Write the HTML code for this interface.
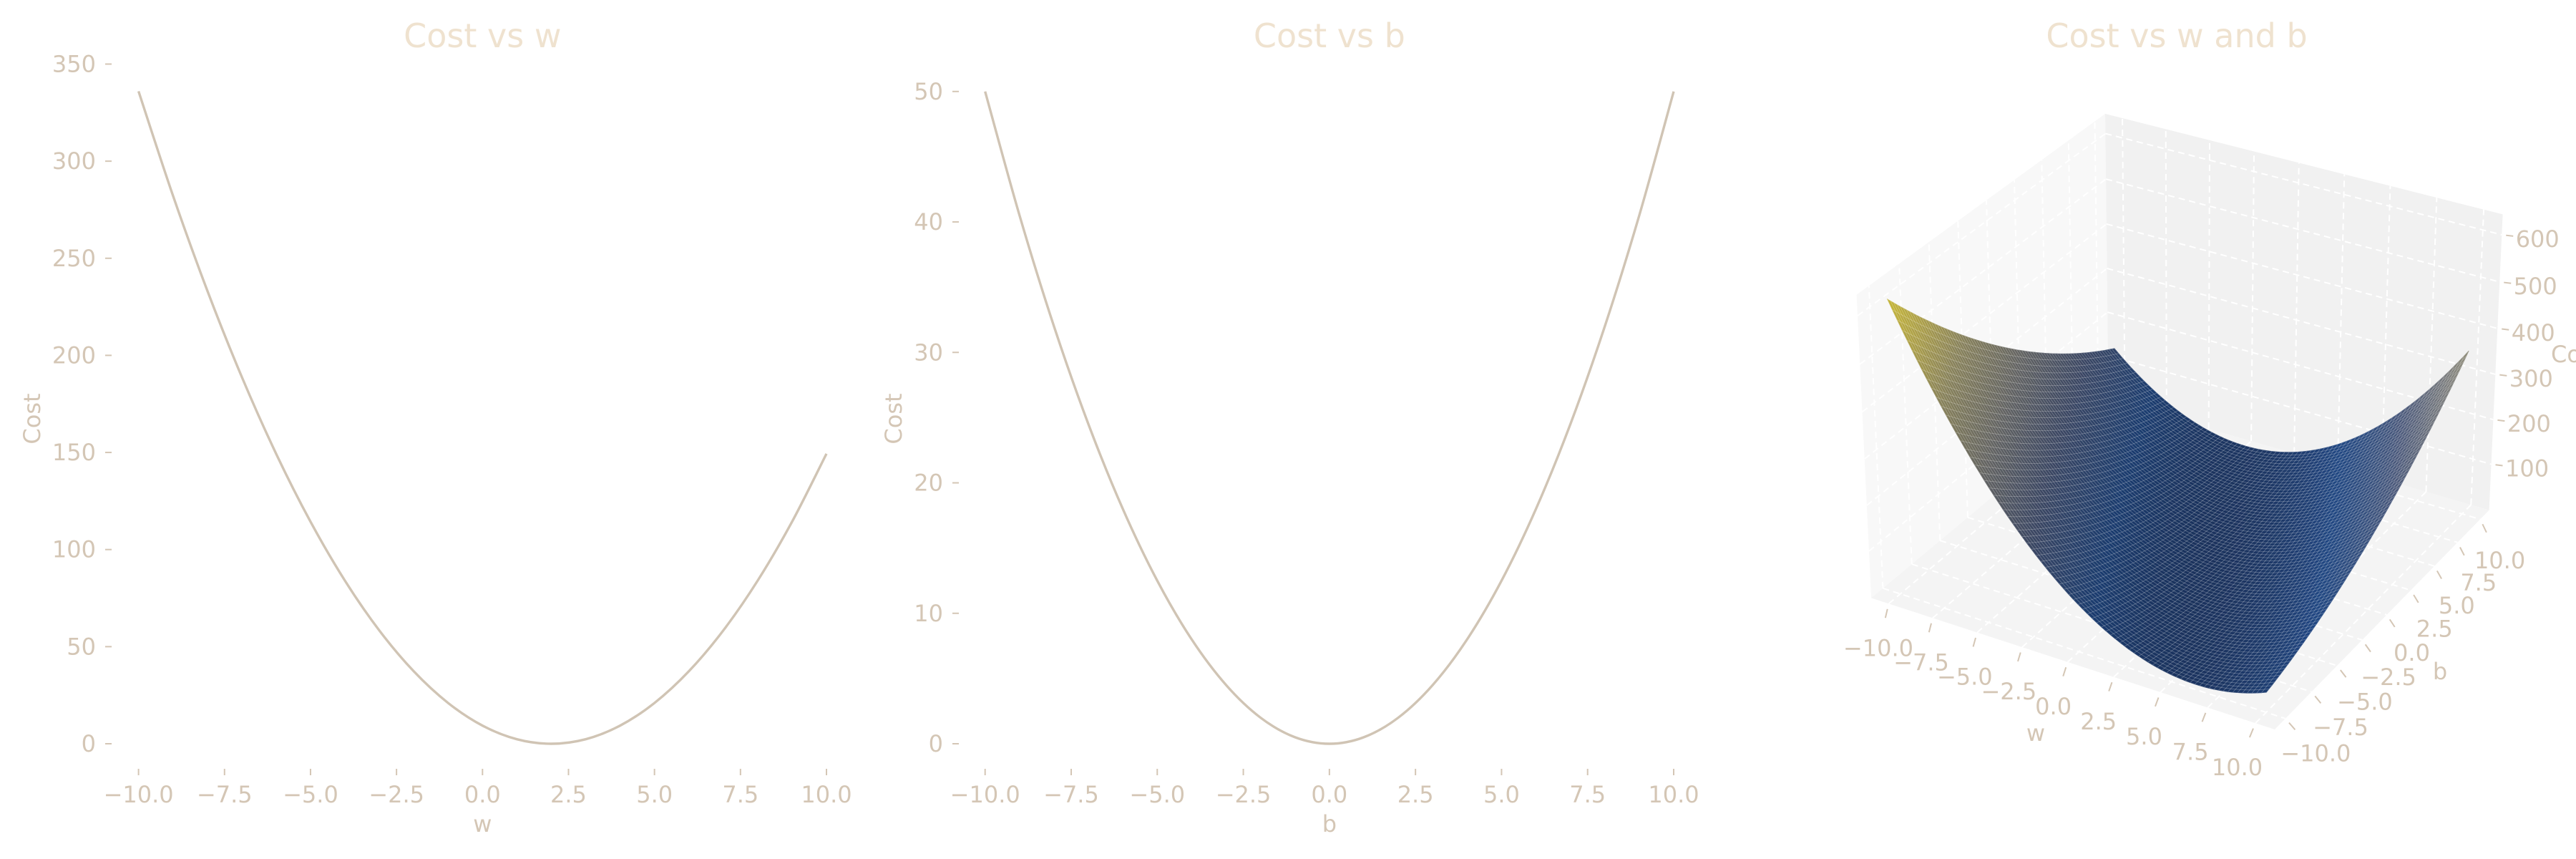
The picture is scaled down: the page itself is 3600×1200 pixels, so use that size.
<!DOCTYPE html>
<html><head><meta charset="utf-8"><style>
html,body{margin:0;padding:0;background:#fff;}
svg{display:block;}
text{font-family:"DejaVu Sans","Liberation Sans",sans-serif;}
</style></head><body>
<svg id="fig" xmlns="http://www.w3.org/2000/svg" width="3600" height="1200" viewBox="0 0 3600 1200">
<rect width="3600" height="1200" fill="#ffffff"/>
<g id="p1"></g>
<g id="p2"></g>
<g id="p3"></g>
</svg>
<script>
// ---------- data ----------
const wValues = [-10,-9,-8,-7,-6,-5,-4,-3,-2,-1,0,1,2,3,4,5,6,7,8,9,10];
const costW = [336,282.33,233.33,189,149.33,114.33,84,58.33,37.33,21,9.33,2.33,0,2.33,9.33,21,37.33,58.33,84,114.33,149.33];
const bValues = [-10,-9,-8,-7,-6,-5,-4,-3,-2,-1,0,1,2,3,4,5,6,7,8,9,10];
const costB = [50,40.5,32,24.5,18,12.5,8,4.5,2,0.5,0,0.5,2,4.5,8,12.5,18,24.5,32,40.5,50];
const xTicks = [-10,-7.5,-5,-2.5,0,2.5,5,7.5,10];
const xTickLabels = ["\u221210.0","\u22127.5","\u22125.0","\u22122.5","0.0","2.5","5.0","7.5","10.0"];
const yTicksW = [0,50,100,150,200,250,300,350];
const yTicksB = [0,10,20,30,40,50];
const trainX = [1,2,3];
const trainY = [2,4,6];
const zTicks = [100,200,300,400,500,600];

const NS = "http://www.w3.org/2000/svg";
const TICK = "#d4c6b5", TITLE = "#efe2cf", LINE = "#d0c4b4";
function mk(tag, attrs, parent){ const e=document.createElementNS(NS,tag); for(const k in attrs) e.setAttribute(k,attrs[k]); parent.appendChild(e); return e; }
function txt(parent, s, x, y, size, color, anchor, rot){
  const t = mk('text',{x:x,y:y,'font-size':size,fill:color,'text-anchor':anchor||'middle','dominant-baseline':'central'},parent);
  if(rot) t.setAttribute('transform','rotate('+rot+' '+x+' '+y+')');
  t.textContent = s; return t;
}
function smoothPath(pts){
  let d = 'M'+pts[0][0].toFixed(2)+','+pts[0][1].toFixed(2);
  for(let i=0;i<pts.length-1;i++){
    const p0=pts[Math.max(0,i-1)], p1=pts[i], p2=pts[i+1], p3=pts[Math.min(pts.length-1,i+2)];
    const c1=[p1[0]+(p2[0]-p0[0])/6, p1[1]+(p2[1]-p0[1])/6];
    const c2=[p2[0]-(p3[0]-p1[0])/6, p2[1]-(p3[1]-p1[1])/6];
    d+=' C'+c1[0].toFixed(2)+','+c1[1].toFixed(2)+' '+c2[0].toFixed(2)+','+c2[1].toFixed(2)+' '+p2[0].toFixed(2)+','+p2[1].toFixed(2);
  }
  return d;
}

function panel2D(g, cfg){
  const X = v => cfg.x0 + (v - (-10)) / 20 * (cfg.x1 - cfg.x0);
  const Y = v => cfg.y0 - v / cfg.yMaxVal * (cfg.y0 - cfg.y1);
  const t = txt(g, cfg.title, (cfg.x0+cfg.x1)/2, 50, 46, TITLE);
  
  
  cfg.yTicks.forEach(v=>{
    const l = mk('line',{x1:cfg.tickX,x2:cfg.tickX+9,y1:Y(v),y2:Y(v),stroke:TICK,'stroke-width':2},g);
    
    
    const tl = txt(g, String(v), cfg.tickX-13, Y(v), 32, TICK, 'end');
    
    
  });
  xTicks.forEach((v,i)=>{
    const l = mk('line',{x1:X(v),x2:X(v),y1:1074,y2:1083,stroke:TICK,'stroke-width':2},g);
    
    
    const tl = txt(g, xTickLabels[i], X(v), 1110, 32, TICK, 'middle');
    
    
  });
  const xl = txt(g, cfg.xlabel, (cfg.x0+cfg.x1)/2, 1151, 32, TICK);
  
  
  const yl = txt(g, 'Cost', cfg.ylabelX, 585, 32, TICK, 'middle', -90);
  
  
  const pts = cfg.xs.map((v,i)=>[X(v), Y(cfg.ys[i])]);
  const p = mk('path',{d:smoothPath(pts),fill:'none',stroke:LINE,'stroke-width':3.4,'stroke-linejoin':'round'},g);
  
  
}
panel2D(document.getElementById('p1'),{x0:193.6,x1:1155,y0:1039,y1:89.5,yMaxVal:350,yTicks:yTicksW,tickX:147,title:'Cost vs w',xlabel:'w',ylabelX:45,xs:wValues,ys:costW});
panel2D(document.getElementById('p2'),{x0:1376.7,x1:2339,y0:1039,y1:127.8,yMaxVal:50,yTicks:yTicksB,tickX:1331,title:'Cost vs b',xlabel:'b',ylabelX:1249,xs:bValues,ys:costB});

// ---------- 3D panel ----------
(function(){
  const g = document.getElementById('p3');
  const LIM = [-11,11], ZL = [-4,643];
  const A = [1.1905,1.1905,0.8929];
  const el = 30*Math.PI/180, az = -60*Math.PI/180;
  const p = [Math.cos(el)*Math.cos(az), Math.cos(el)*Math.sin(az), Math.sin(el)];
  const eye = [A[0]/2+10*p[0], A[1]/2+10*p[1], A[2]/2+10*p[2]];
  let u = [-p[1], p[0], 0]; const un=Math.hypot(u[0],u[1]); u=[u[0]/un,u[1]/un,0];
  const v = [p[1]*u[2]-p[2]*u[1], p[2]*u[0]-p[0]*u[2], p[0]*u[1]-p[1]*u[0]];
  function raw(w,b,z){
    const P=[(w-LIM[0])/(LIM[1]-LIM[0])*A[0],(b-LIM[0])/(LIM[1]-LIM[0])*A[1],(z-ZL[0])/(ZL[1]-ZL[0])*A[2]];
    const r=[P[0]-eye[0],P[1]-eye[1],P[2]-eye[2]];
    const d=-(p[0]*r[0]+p[1]*r[1]+p[2]*r[2]);
    return [(u[0]*r[0]+u[1]*r[1]+u[2]*r[2])/d,(v[0]*r[0]+v[1]*r[1]+v[2]*r[2])/d,d];
  }
  const FX=3179, FY=1019, TX=2942, TY=159;
  const F = raw(11,-11,ZL[0]), T = raw(-11,11,ZL[1]);
  const sx = (FX-TX)/(F[0]-T[0]), sy = (FY-TY)/(F[1]-T[1]);
  function P(w,b,z){ const r=raw(w,b,z); return [FX+(r[0]-F[0])*sx, FY+(r[1]-F[1])*sy, r[2]]; }
  const pt = q => q[0].toFixed(1)+','+q[1].toFixed(1);

  const t = txt(g,'Cost vs w and b',3042,50,46,TITLE);
  
  

  const zlo=ZL[0], zhi=ZL[1];
  const panes = [
    {n:'w-pane', c:[[-11,-11,zlo],[-11,11,zlo],[-11,11,zhi],[-11,-11,zhi]], f:'#f8f8f8'},
    {n:'b-pane', c:[[-11,11,zlo],[11,11,zlo],[11,11,zhi],[-11,11,zhi]], f:'#f1f1f1'},
    {n:'floor-pane', c:[[-11,-11,zlo],[11,-11,zlo],[11,11,zlo],[-11,11,zlo]], f:'#f4f4f4'}
  ];
  panes.forEach(pn=>{
    const e = mk('polygon',{points:pn.c.map(c=>pt(P(...c))).join(' '),fill:pn.f},g);
    
    
  });
  function gl(a,b2){
    const A1=P(...a), B1=P(...b2);
    const l = mk('line',{x1:A1[0],y1:A1[1],x2:B1[0],y2:B1[1],stroke:'#ffffff','stroke-width':2,'stroke-dasharray':'9,6'},g);
    
    
  }
  xTicks.forEach(w=>{ gl([w,-11,zlo],[w,11,zlo]); gl([w,11,zlo],[w,11,zhi]); });
  xTicks.forEach(b=>{ gl([-11,b,zlo],[11,b,zlo]); gl([-11,b,zlo],[-11,b,zhi]); });
  zTicks.forEach(z=>{ gl([-11,-11,z],[-11,11,z]); gl([-11,11,z],[11,11,z]); });

  // surface
  const N = 80;
  const m = trainX.length;
  function cost(w,b){ let s=0; for(let i=0;i<m;i++){ const e=w*trainX[i]+b-trainY[i]; s+=e*e; } return s/(2*m); }
  const grid=[]; let zmin=Infinity,zmax=-Infinity;
  for(let i=0;i<=N;i++){ grid.push([]); for(let j=0;j<=N;j++){ const w=-10+20*i/N, b=-10+20*j/N, z=cost(w,b); grid[i].push([w,b,z]); zmin=Math.min(zmin,z); zmax=Math.max(zmax,z);} }
  const stops=[[0,[28,52,96]],[0.12,[30,68,126]],[0.3,[70,84,118]],[0.5,[124,124,120]],[0.7,[170,162,112]],[0.85,[214,198,92]],[1,[252,232,70]]];
  function cmap(tv){ for(let k=1;k<stops.length;k++){ if(tv<=stops[k][0]){ const a=stops[k-1],b=stops[k]; const f=(tv-a[0])/(b[0]-a[0]); return a[1].map((c,ii)=>Math.round(c+(b[1][ii]-c)*f)); } } return stops[stops.length-1][1]; }
  const quads=[];
  for(let i=0;i<N;i++) for(let j=0;j<N;j++){
    const cs=[grid[i][j],grid[i+1][j],grid[i+1][j+1],grid[i][j+1]];
    const pp=cs.map(c=>P(...c));
    const zav=(cs[0][2]+cs[1][2]+cs[2][2]+cs[3][2])/4;
    const dep=(pp[0][2]+pp[1][2]+pp[2][2]+pp[3][2])/4;
    const dzdw=(cs[1][2]-cs[0][2]+cs[2][2]-cs[3][2])/2/(20/N);
    const dzdb=(cs[3][2]-cs[0][2]+cs[2][2]-cs[1][2])/2/(20/N);
    const nx=-dzdw/35, ny=-dzdb/35, nz=1, nn=Math.hypot(nx,ny,nz);
    const L=[-0.5,-0.5,0.7], ln=Math.hypot(...L);
    const sh=0.85+0.18*((nx*L[0]+ny*L[1]+nz*L[2])/(nn*ln));
    const col=cmap((zav-zmin)/(zmax-zmin)).map(c=>Math.max(0,Math.min(255,Math.round(c*sh))));
    quads.push({pp,dep,col});
  }
  quads.sort((a,b)=>b.dep-a.dep);
  const sg = mk('g',{},g);
  
  
  quads.forEach(q=>{
    const c='rgb('+q.col.join(',')+')';
    const e=mk('polygon',{points:q.pp.map(pt).join(' '),fill:c,stroke:c,'stroke-width':0.8},sg);
    
    
  });
  const mg = mk('g',{stroke:'rgba(255,255,255,0.16)','stroke-width':0.8,fill:'none'},g);
  
  
  quads.forEach(q=>{ mk('polygon',{points:q.pp.map(pt).join(' ')},mg); });

  function tick(edge, off, label, name){
    const E=P(...edge);
    const l=mk('line',{x1:E[0]+off[0]*0.12,y1:E[1]+off[1]*0.12,x2:E[0]+off[0]*0.32,y2:E[1]+off[1]*0.32,stroke:TICK,'stroke-width':2},g);
    
    
    const tl=txt(g,label,E[0]+off[0],E[1]+off[1],32,TICK,'middle');
    
    
  }
  xTicks.forEach((w,i)=>tick([w,-11,zlo],[-20-0.55*w,62],xTickLabels[i],'w'));
  xTicks.forEach((b,i)=>tick([11,b,zlo],[35-0.75*b,53+0.45*b],xTickLabels[i],'b'));
  zTicks.forEach(z=>tick([11,11,z],[50,6],String(z),'z'));
  const wl=txt(g,'w',2845,1024,32,TICK);  
  const bl=txt(g,'b',3410,938,32,TICK);  
  const cl=txt(g,'Cost',3565,495,32,TICK,'start');  
})();
</script>
</body></html>
